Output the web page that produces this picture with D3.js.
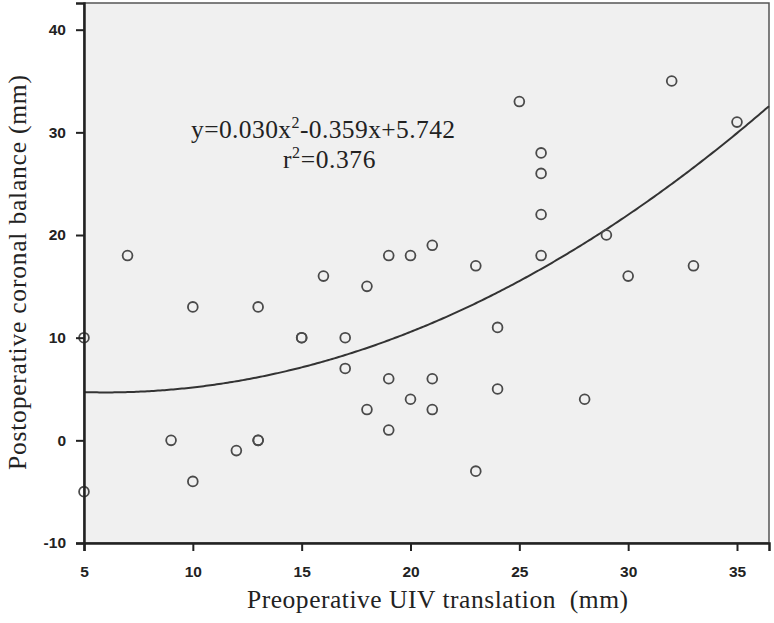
<!DOCTYPE html>
<html>
<head>
<meta charset="utf-8">
<script src="https://cdn.jsdelivr.net/npm/d3@7"></script>
<style>
  body { margin: 0; background: #fff; }
  .tick text { font-family: "Liberation Sans", Arial, sans-serif; font-size: 15.5px; font-weight: bold; fill: #222; }
</style>
</head>
<body>
<script>
// preoperative UIV translation vs postoperative coronal balance
const uivX = [5, 5, 7, 9, 10, 10, 12, 13, 13, 13, 15, 15, 16, 17, 17, 18, 18, 19, 19, 19,
  20, 20, 21, 21, 21, 23, 23, 24, 24, 25, 26, 26, 26, 26, 28, 29, 30, 32, 33, 35];
const balanceY = [10, -5, 18, 0, 13, -4, -1, 13, 0, 0, 10, 10, 16, 10, 7, 15, 3, 18, 6, 1,
  18, 4, 19, 6, 3, 17, -3, 11, 5, 33, 28, 26, 22, 18, 4, 20, 16, 35, 17, 31];
const xTicks = [5, 10, 15, 20, 25, 30, 35];
const yTicks = [-10, 0, 10, 20, 30, 40];
// quadratic fit printed on the chart
const coef = [5.742, -0.359, 0.030];

const width = 774, height = 623;
const plotLeft = 84, plotRight = 769, plotTop = 3, plotBottom = 543;
const serif = '"Liberation Serif", "Times New Roman", serif';

const x = d3.scaleLinear().domain([5, 36.47]).range([plotLeft, plotRight]);
const y = d3.scaleLinear().domain([-10, 42.6]).range([plotBottom, plotTop]);

const svg = d3.select('body')
  .append('svg')
  .attr('width', width)
  .attr('height', height);

svg.append('rect')
  .attr('x', plotLeft)
  .attr('y', plotTop)
  .attr('width', plotRight - plotLeft)
  .attr('height', plotBottom - plotTop)
  .attr('fill', '#f0f0f0')
  .attr('stroke', '#555')
  .attr('stroke-width', 1.5);

// fit curve
const curveX = d3.range(5, 36.47, 0.1).concat([36.47]);
const fit = v => coef[0] + coef[1] * v + coef[2] * v * v;
svg.append('path')
  .datum(curveX)
  .attr('fill', 'none')
  .attr('stroke', '#333')
  .attr('stroke-width', 2)
  .attr('d', d3.line().x(d => x(d)).y(d => y(fit(d))));

// points
svg.append('g')
  .selectAll('circle')
  .data(uivX.map((v, i) => [v, balanceY[i]]))
  .enter()
  .append('circle')
  .attr('cx', d => x(d[0]))
  .attr('cy', d => y(d[1]))
  .attr('r', 4.9)
  .attr('fill', 'none')
  .attr('stroke', '#4a4a4a')
  .attr('stroke-width', 1.8);

// axes (plain hyphen for negatives, like the original)
const xAxis = d3.axisBottom(x).tickValues(xTicks).tickFormat(d => String(d)).tickSize(8).tickPadding(15);
const yAxis = d3.axisLeft(y).tickValues(yTicks).tickFormat(d => String(d)).tickSize(8).tickPadding(10);

const gx = svg.append('g')
  .attr('transform', `translate(0,${plotBottom})`)
  .call(xAxis);
const gy = svg.append('g')
  .attr('transform', `translate(${plotLeft},0)`)
  .call(yAxis);
[gx, gy].forEach(g => {
  g.select('.domain').attr('stroke', '#222').attr('stroke-width', 2.5);
  g.selectAll('.tick line').attr('stroke', '#222').attr('stroke-width', 2);
});

// equation text
const eq = svg.append('text')
  .attr('x', 191)
  .attr('y', 138)
  .attr('font-family', serif)
  .attr('font-size', 25.5)
  .attr('letter-spacing', 0.4)
  .attr('fill', '#222');
eq.append('tspan').text('y=0.030x');
eq.append('tspan').attr('dy', -10).attr('font-size', 16).text('2');
eq.append('tspan').attr('dy', 10).text('-0.359x+5.742');

const r2 = svg.append('text')
  .attr('x', 283)
  .attr('y', 168)
  .attr('font-family', serif)
  .attr('font-size', 25.5)
  .attr('letter-spacing', 0.6)
  .attr('fill', '#222');
r2.append('tspan').text('r');
r2.append('tspan').attr('dy', -10).attr('font-size', 16).text('2');
r2.append('tspan').attr('dy', 10).text('=0.376');

// axis titles
svg.append('text')
  .attr('x', 247)
  .attr('y', 608)
  .attr('font-family', serif)
  .attr('font-size', 25.5)
  .attr('fill', '#222')
  .attr('textLength', 381)
  .attr('lengthAdjust', 'spacing')
  .attr('xml:space', 'preserve')
  .text('Preoperative UIV translation  (mm)');

svg.append('text')
  .attr('transform', 'translate(26,470) rotate(-90)')
  .attr('font-family', serif)
  .attr('font-size', 25.5)
  .attr('fill', '#222')
  .attr('textLength', 395)
  .attr('lengthAdjust', 'spacing')
  .text('Postoperative coronal balance (mm)');
</script>
</body>
</html>
